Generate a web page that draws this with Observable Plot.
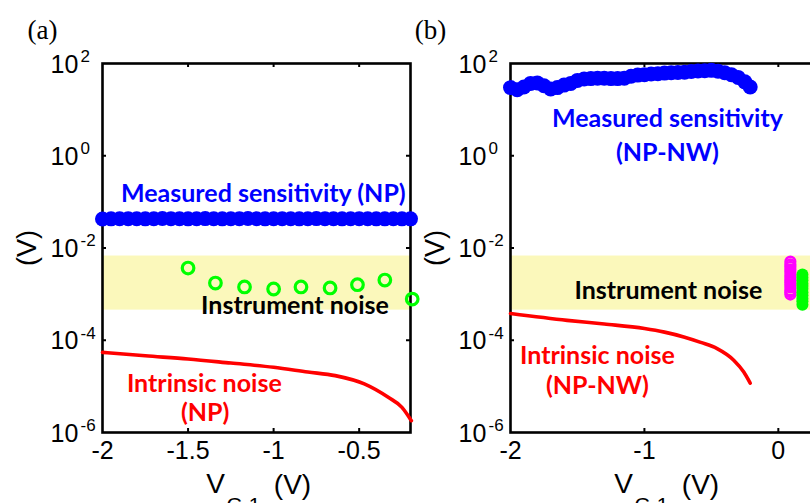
<!DOCTYPE html>
<html><head><meta charset="utf-8">
<script src="https://cdn.jsdelivr.net/npm/d3@7"></script>
<script src="https://cdn.jsdelivr.net/npm/@observablehq/plot@0.6"></script>
<style>
html,body{margin:0;padding:0;background:#fff;}
#wrap{position:relative;width:810px;height:503px;overflow:hidden;background:#fff;}
#wrap svg{position:absolute;top:0;}
</style></head><body>
<div id="wrap"></div>
<script>
// ---------- data ----------
const decadeTicks = [1e-6, 1e-4, 1e-2, 1, 1e2];
const innerDecades = [1e-4, 1e-2, 1];
const bandLimits = [0.00045, 0.0067];

// Panel (a)
const aXTicks = [-2, -1.5, -1, -0.5];
const aInnerXTicks = [-1.5, -1, -0.5];
const aSensX = [-2.00,-1.95,-1.90,-1.85,-1.80,-1.75,-1.70,-1.65,-1.60,-1.55,-1.50,-1.45,-1.40,-1.35,-1.30,-1.25,-1.20,-1.15,-1.10,-1.05,-1.00,-0.95,-0.90,-0.85,-0.80,-0.75,-0.70,-0.65,-0.60,-0.55,-0.50,-0.45,-0.40,-0.35,-0.30,-0.25,-0.20];
const aSensY = [0.0425,0.0428,0.0432,0.0433,0.0430,0.0428,0.0431,0.0435,0.0433,0.0430,0.0429,0.0432,0.0434,0.0431,0.0428,0.0430,0.0433,0.0435,0.0432,0.0429,0.0430,0.0433,0.0432,0.0429,0.0431,0.0434,0.0433,0.0430,0.0428,0.0431,0.0433,0.0432,0.0429,0.0428,0.0430,0.0429,0.0428];
const aInstX = [-1.5, -1.34, -1.17, -1.0, -0.84, -0.67, -0.51, -0.35, -0.19];
const aInstY = [0.00368, 0.00174, 0.00143, 0.00129, 0.00143, 0.00136, 0.0016, 0.00202, 0.00078];
const aNoiseX = [-2.0, -1.75, -1.5, -1.25, -1.0, -0.8, -0.64, -0.47, -0.33, -0.25, -0.195];
const aNoiseY = [5.47e-5, 4.6e-5, 3.93e-5, 3.2e-5, 2.59e-5, 2.05e-5, 1.71e-5, 1.13e-5, 5.78e-6, 3.5e-6, 1.8e-6];

// Panel (b)
const bXTicks = [-2, -1, 0];
const bInnerXTicks = [-1, 0];
const bSensX = [-2.00,-1.95,-1.90,-1.85,-1.80,-1.75,-1.70,-1.65,-1.60,-1.55,-1.50,-1.45,-1.40,-1.35,-1.30,-1.25,-1.20,-1.15,-1.10,-1.05,-1.00,-0.95,-0.90,-0.85,-0.80,-0.75,-0.70,-0.65,-0.60,-0.55,-0.50,-0.45,-0.40,-0.35,-0.30,-0.25,-0.21];
const bSensY = [30,27,31,37,38,33,28,30,34,37,43,46,47,48,48,47,47,48,53,56,57,59,60,62,63,64,65,67,69,70,71,68,63,57,50,40,31];
const bNoiseX = [-2.0, -1.577, -1.3, -1.0, -0.85, -0.706, -0.58, -0.457, -0.333, -0.258, -0.21];
const bNoiseY = [3.8e-4, 2.7e-4, 2.25e-4, 1.8e-4, 1.5e-4, 1.18e-4, 9e-5, 6.6e-5, 3.7e-5, 2.05e-5, 1.18e-5];
const bMagentaX = 0.09;
const bMagentaY = [0.0051,0.0044,0.0039,0.0034,0.0030,0.0026,0.0023,0.0020,0.0018,0.0016,0.0014,0.0012,0.0011,0.00098];
const bGreenX = 0.18;
const bGreenY = [0.00265,0.0023,0.0020,0.0017,0.0015,0.0013,0.0011,0.00095,0.0008,0.0007,0.00059];

// ---------- layout ----------
const W = 420, H = 503, mL = 102, mR = 10, mT = 63, mB = 71;
const fw = W - mL - mR, fh = H - mT - mB;
const SANS = '"Liberation Sans", Arial, sans-serif';
const LAB = 'Lato, "Open Sans", sans-serif';
const SERIF = '"Liberation Serif", "Times New Roman", serif';

function pts(xs, ys) { return xs.map((x, i) => ({x, y: ys[i]})); }

function label(txt, x, y, color) {
  return Plot.text([txt], {x, y, text: d => d, fill: color, fontFamily: LAB, fontWeight: "bold",
    fontSize: 25, textAnchor: "middle", lineAnchor: "middle"});
}

function makePanel(cfg) {
  const marks = [
    Plot.rect([bandLimits], {x1: cfg.xDomain[0], x2: cfg.xDomain[1], y1: d => d[0], y2: d => d[1], fill: "#fbf8bb"}),
    Plot.frame({stroke: "#000", strokeWidth: 2.6}),
    Plot.tickY(innerDecades, {y: d => d, stroke: "#000", strokeWidth: 2, insetRight: fw - 4}),
    Plot.tickY(innerDecades, {y: d => d, stroke: "#000", strokeWidth: 2, insetLeft: fw - 4}),
    Plot.tickX(cfg.innerXTicks, {x: d => d, stroke: "#000", strokeWidth: 2, insetBottom: fh - 4}),
    Plot.tickX(cfg.innerXTicks, {x: d => d, stroke: "#000", strokeWidth: 2, insetTop: fh - 4}),
    Plot.line(cfg.noise, {x: "x", y: "y", stroke: "#ff0000", strokeWidth: 3.6, curve: "monotone-x"}),
    Plot.dot(cfg.sens, {x: "x", y: "y", r: 7.5, fill: "#0000ff", stroke: "none"}),
    ...cfg.extras,
    Plot.axisY(decadeTicks, {tickSize: 0, tickPadding: 0, textAnchor: "start", dx: -52, dy: 1,
      tickFormat: () => "10", fontSize: 25, fontFamily: SANS, fill: "#000", label: null}),
    Plot.axisY(decadeTicks, {tickSize: 0, tickPadding: 0, textAnchor: "start", dx: -22, dy: -7,
      tickFormat: d => String(Math.round(Math.log10(d))), fontSize: 17, fontFamily: SANS, fill: "#000", label: null}),
    Plot.axisX(cfg.xTicks, {tickSize: 0, tickPadding: 9, tickFormat: d => String(d), fontSize: 25,
      fontFamily: SANS, fill: "#000", label: null}),
    Plot.text(["(V)"], {frameAnchor: "left", text: d => d, rotate: -90, dx: -75, fontSize: 27, fontFamily: SANS,
      textAnchor: "middle", lineAnchor: "middle"}),
    Plot.text(["V"], {frameAnchor: "bottom", text: d => d, dx: -41, dy: 52, fontSize: 28, fontFamily: SANS,
      textAnchor: "middle", lineAnchor: "middle"}),
    Plot.text(["G,1"], {frameAnchor: "bottom", text: d => d, dx: -30, dy: 73, fontSize: 21, fontFamily: SANS,
      textAnchor: "start", lineAnchor: "middle"}),
    Plot.text(["(V)"], {frameAnchor: "bottom", text: d => d, dx: 36, dy: 53, fontSize: 28, fontFamily: SANS,
      textAnchor: "middle", lineAnchor: "middle"}),
    Plot.text([cfg.tag], {frameAnchor: "top-left", text: d => d, dx: cfg.tagDx, dy: -33, fontSize: 27, fontFamily: SERIF,
      textAnchor: "middle", lineAnchor: "middle"}),
    ...cfg.labels
  ];
  const svg = Plot.plot({
    width: W, height: H, marginLeft: mL, marginRight: mR, marginTop: mT, marginBottom: mB,
    x: {type: "linear", domain: cfg.xDomain, label: null},
    y: {type: "log", domain: [1e-6, 1e2], label: null},
    style: {background: "transparent", maxWidth: "none", overflow: "visible", fontFamily: SANS},
    marks
  });
  svg.style.left = cfg.left + "px";
  return svg;
}

const wrap = document.getElementById("wrap");

wrap.appendChild(makePanel({
  left: 0, tag: "(a)", tagDx: -60, xDomain: [-2, -0.2], xTicks: aXTicks, innerXTicks: aInnerXTicks,
  sens: pts(aSensX, aSensY), noise: pts(aNoiseX, aNoiseY),
  extras: [Plot.dot(pts(aInstX, aInstY), {x: "x", y: "y", r: 5.8, stroke: "#00ff00", strokeWidth: 3.2, fill: "none"})],
  labels: [
    label("Measured sensitivity (NP)", -1.06, 0.151, "#0000ff"),
    label("Instrument noise", -0.875, 5.6e-4, "#000"),
    label("Intrinsic noise", -1.405, 1.15e-5, "#ff0000"),
    label("(NP)", -1.40, 2.6e-6, "#ff0000")
  ]
}));

wrap.appendChild(makePanel({
  left: 408, tag: "(b)", tagDx: -80, xDomain: [-2, 0.3], xTicks: bXTicks, innerXTicks: bInnerXTicks,
  sens: pts(bSensX, bSensY), noise: pts(bNoiseX, bNoiseY),
  extras: [
    Plot.dot(bMagentaY.map(y => ({x: bMagentaX, y})), {x: "x", y: "y", r: 4.8, stroke: "#ff00ff", strokeWidth: 2.6, fill: "none"}),
    Plot.dot(bGreenY.map(y => ({x: bGreenX, y})), {x: "x", y: "y", r: 6, fill: "#00ff00", stroke: "none"})
  ],
  labels: [
    label("Measured sensitivity", -0.828, 6.4, "#0000ff"),
    label("(NP-NW)", -0.828, 1.12, "#0000ff"),
    label("Instrument noise", -0.821, 1.19e-3, "#000"),
    label("Intrinsic noise", -1.351, 4.6e-5, "#ff0000"),
    label("(NP-NW)", -1.351, 1.03e-5, "#ff0000")
  ]
}));
</script>
</body></html>
